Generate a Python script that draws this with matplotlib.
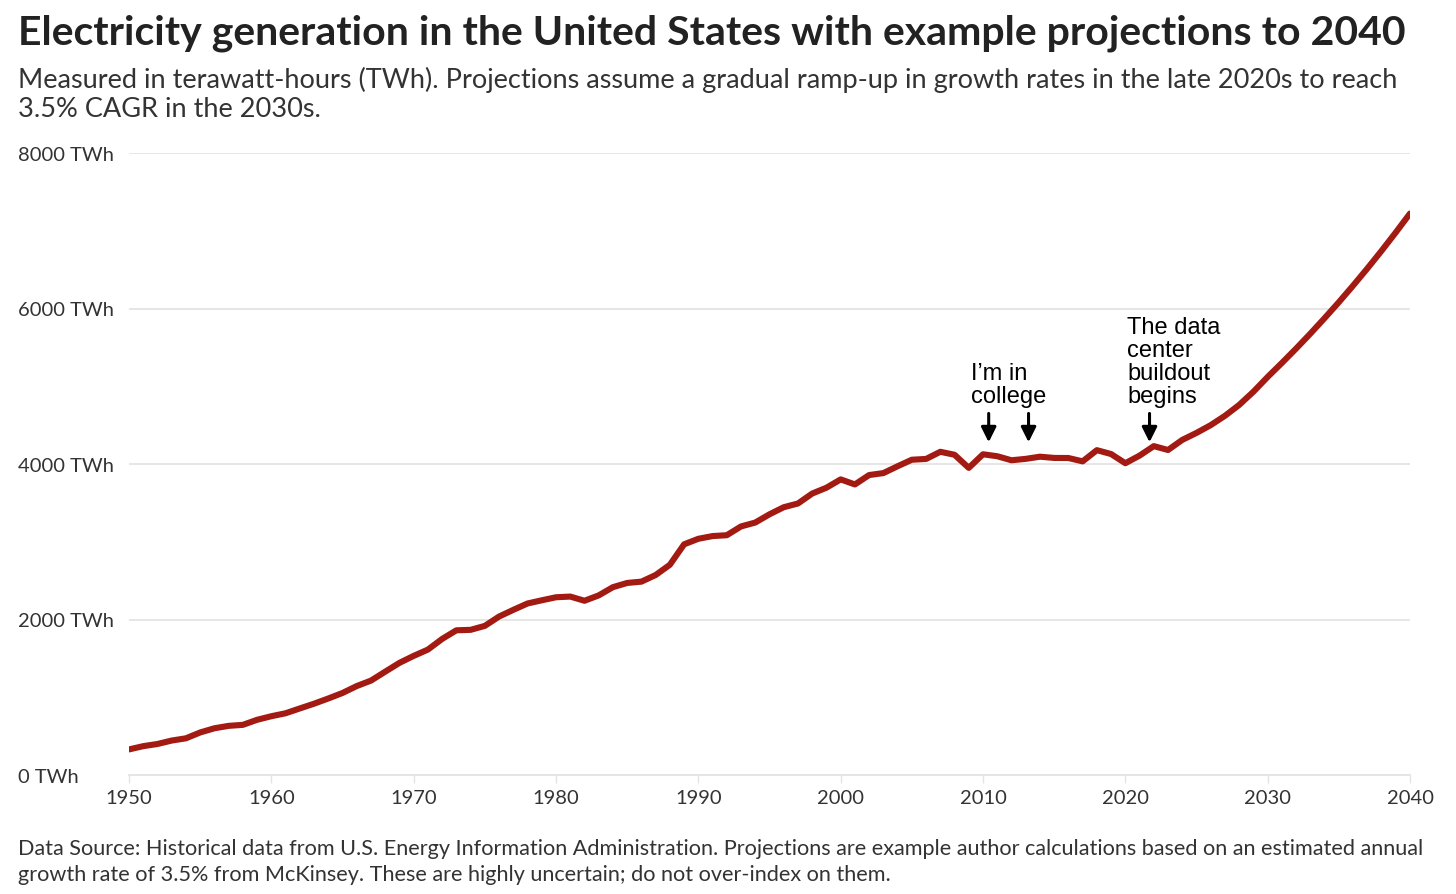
import matplotlib.pyplot as plt

# data (TWh), historical EIA + example projection
years = list(range(1950, 2041))
generation = [
    329, 371, 399, 443, 472, 547, 601, 632, 645, 710,
    756, 794, 856, 917, 984, 1055, 1144, 1214, 1329, 1442,
    1532, 1613, 1750, 1861, 1867, 1918, 2038, 2124, 2206, 2247,
    2286, 2295, 2241, 2310, 2416, 2470, 2487, 2572, 2704, 2967,
    3038, 3073, 3084, 3197, 3247, 3353, 3444, 3492, 3620, 3695,
    3802, 3737, 3858, 3883, 3971, 4055, 4065, 4157, 4119, 3950,
    4125, 4100, 4048, 4066, 4094, 4078, 4077, 4034, 4178, 4128,
    4010, 4108, 4230, 4180, 4310, 4400, 4500, 4620, 4760, 4930,
    5120, 5300, 5485, 5677, 5876, 6081, 6294, 6514, 6742, 6978,
    7222,
]
yticks = [0, 2000, 4000, 6000, 8000]
xticks = [1950, 1960, 1970, 1980, 1990, 2000, 2010, 2020, 2030, 2040]
arrow_years = [2010.4, 2013.2, 2021.7]
notes = [(2009.15, "I\u2019m in\ncollege"), (2020.15, "The data\ncenter\nbuildout\nbegins")]

title = "Electricity generation in the United States with example projections to 2040"
subtitle = ("Measured in terawatt-hours (TWh). Projections assume a gradual ramp-up in growth rates in the late 2020s to reach\n"
            "3.5% CAGR in the 2030s.")
source = ("Data Source: Historical data from U.S. Energy Information Administration. Projections are example author calculations based on an estimated annual\n"
          "growth rate of 3.5% from McKinsey. These are highly uncertain; do not over-index on them.")

txt = '#333333'
grid = '#e4e4e4'

fig = plt.figure(figsize=(14.56, 8.95), dpi=100)
ax = fig.add_axes([129/1456, 1 - 776/895, 1281/1456, 622/895])

ax.plot(years, generation, color='#a31a12', lw=4.4, solid_joinstyle='round', solid_capstyle='round', zorder=3)

ax.set_xlim(1950, 2040)
ax.set_ylim(0, 8000)
ax.set_yticks(yticks)
ax.set_yticklabels([f"{v} TWh" for v in yticks], ha='left', fontsize=14.5, color=txt, family='Lato')
ax.set_xticks(xticks)
ax.set_xticklabels([str(v) for v in xticks], fontsize=14.5, color=txt, family='Lato')
ax.tick_params(axis='y', length=0, pad=80)
ax.tick_params(axis='x', length=6, width=1, color=grid, pad=4)
ax.grid(axis='y', color=grid, lw=1.3, zorder=0)
for s in ['top', 'right', 'left']:
    ax.spines[s].set_visible(False)
ax.spines['bottom'].set_color(grid)
ax.spines['bottom'].set_linewidth(1.3)
ax.set_clip_on(False)

for xa in arrow_years:
    ax.annotate('', xy=(xa, 4280), xytext=(xa, 4650),
                arrowprops=dict(arrowstyle='-|>,head_width=0.45,head_length=0.9', color='black',
                                lw=2.2, shrinkA=0, shrinkB=0))
for xn, t in notes:
    ax.text(xn, 4730, t, fontsize=17, family='Liberation Sans', color='black',
            va='bottom', ha='left', linespacing=1.07)

fig.text(18/1456, 1 - 33/895, title, fontsize=29.5, fontweight='bold', color='#222222',
         family='Lato', va='center', ha='left')
fig.text(18/1456, 1 - 94/895, subtitle, fontsize=19.5, color=txt, family='Lato',
         va='center', ha='left', linespacing=1.2)
fig.text(18/1456, 1 - 862/895, source, fontsize=15.6, color=txt, family='Lato',
         va='center', ha='left', linespacing=1.4)

fig.savefig('out.png', dpi=100, facecolor='white')
